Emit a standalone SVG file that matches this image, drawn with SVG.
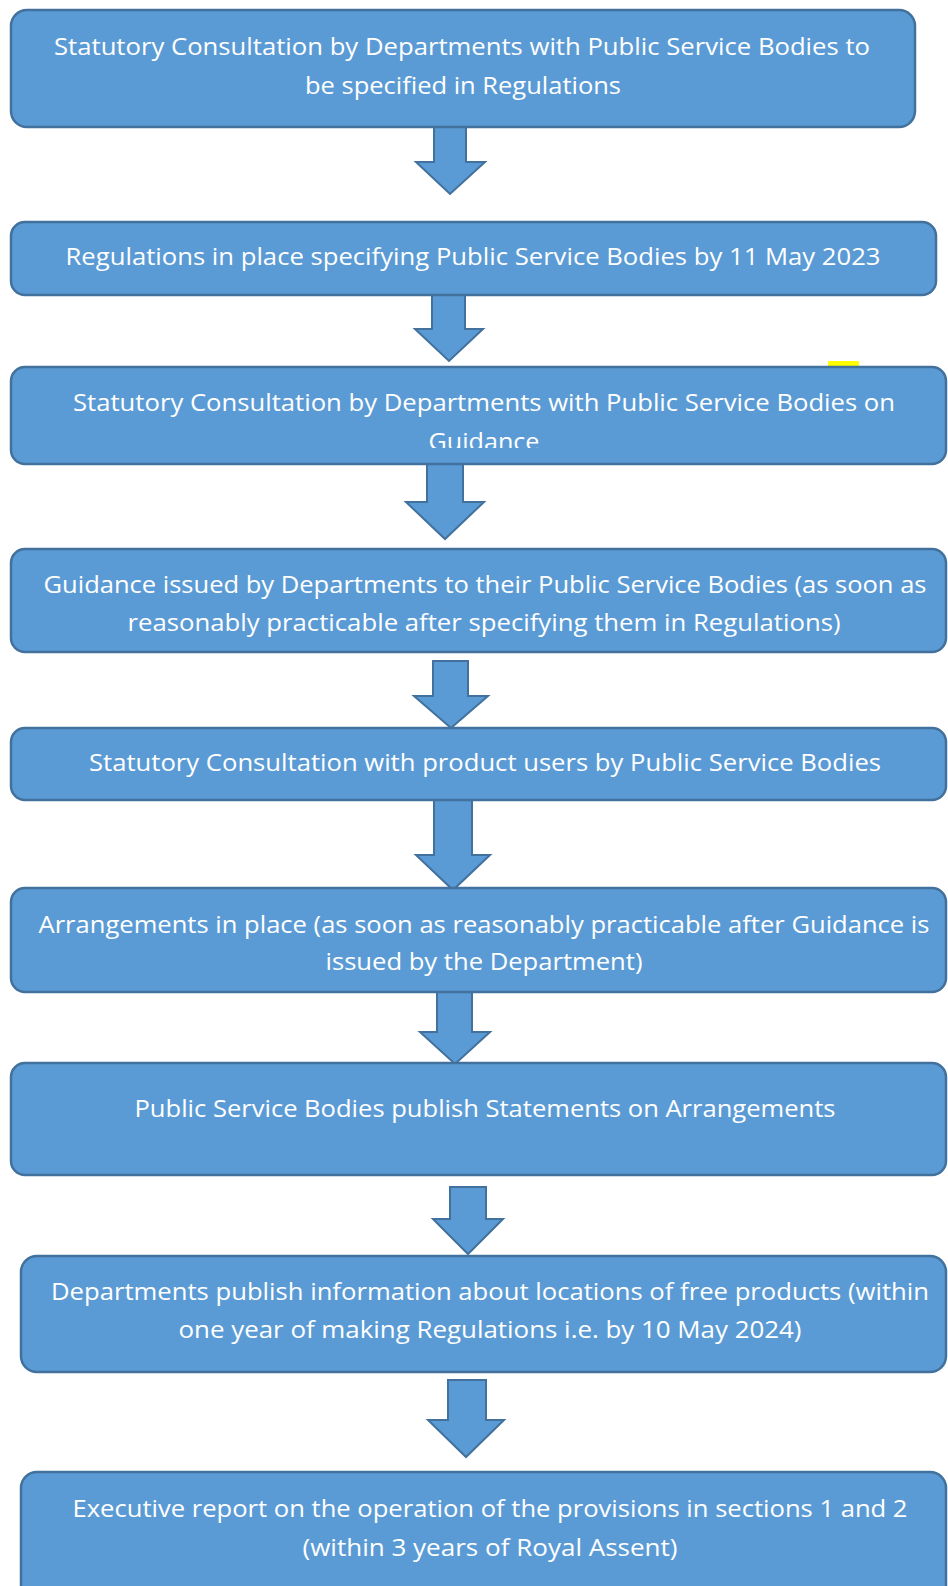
<svg xmlns="http://www.w3.org/2000/svg" width="948" height="1586" viewBox="0 0 948 1586">
<style>
.box{fill:#5B9BD5;stroke:#41719C;stroke-width:2.5}
.arr{fill:#5B9BD5;stroke:#41719C;stroke-width:2;stroke-linejoin:miter}
text{font-family:"Open Sans","Noto Sans","Liberation Sans",sans-serif;font-size:24.5px;fill:#FFFFFF;text-anchor:middle}
</style>
<defs>
<clipPath id="clip3"><rect x="11" y="367" width="937" height="81"/></clipPath>
</defs>
<rect x="0" y="0" width="948" height="1586" fill="#FFFFFF"/>
<rect x="828" y="361" width="31" height="5" fill="#FFFF00"/>
<g id="connectors">
<path class="arr" d="M434,127 H466 V162 H485 L450,194 L416,162 H434 Z"/>
<path class="arr" d="M432,295 H465 V329 H483 L449,361 L415,329 H432 Z"/>
<path class="arr" d="M427,464 H463 V502 H484 L445,539 L406,502 H427 Z"/>
<path class="arr" d="M433,661 H468 V696 H488 L451,728 L414,696 H433 Z"/>
<path class="arr" d="M434,800 H472 V855 H490 L453,890 L416,855 H434 Z"/>
<path class="arr" d="M437,992 H472 V1032 H490 L455,1064 L420,1032 H437 Z"/>
<path class="arr" d="M450,1187 H486 V1219 H503 L468,1254 L433,1219 H450 Z"/>
<path class="arr" d="M448,1380 H486 V1420 H504 L466,1457 L428,1420 H448 Z"/>
</g>
<g id="node1">
<rect class="box" x="11" y="10" width="904" height="117" rx="16"/>
<text x="462" y="55" textLength="816" lengthAdjust="spacingAndGlyphs">Statutory Consultation by Departments with Public Service Bodies to</text>
<text x="463" y="94" textLength="316" lengthAdjust="spacingAndGlyphs">be specified in Regulations</text>
</g>
<g id="node2">
<rect class="box" x="11" y="222" width="925" height="73" rx="14"/>
<text x="473" y="265" textLength="815" lengthAdjust="spacingAndGlyphs">Regulations in place specifying Public Service Bodies by 11 May 2023</text>
</g>
<g id="node3">
<rect class="box" x="11" y="367" width="935" height="97" rx="14"/>
<g clip-path="url(#clip3)">
<text x="484" y="411" textLength="822" lengthAdjust="spacingAndGlyphs">Statutory Consultation by Departments with Public Service Bodies on</text>
<text x="484" y="450" textLength="111" lengthAdjust="spacingAndGlyphs">Guidance</text>
</g>
</g>
<g id="node4">
<rect class="box" x="11" y="549" width="935" height="103" rx="14"/>
<text x="485" y="593" textLength="883" lengthAdjust="spacingAndGlyphs">Guidance issued by Departments to their Public Service Bodies (as soon as</text>
<text x="484" y="631" textLength="713" lengthAdjust="spacingAndGlyphs">reasonably practicable after specifying them in Regulations)</text>
</g>
<g id="node5">
<rect class="box" x="11" y="728" width="935" height="72" rx="14"/>
<text x="485" y="771" textLength="792" lengthAdjust="spacingAndGlyphs">Statutory Consultation with product users by Public Service Bodies</text>
</g>
<g id="node6">
<rect class="box" x="11" y="888" width="935" height="104" rx="14"/>
<text x="484" y="933" textLength="891" lengthAdjust="spacingAndGlyphs">Arrangements in place (as soon as reasonably practicable after Guidance is</text>
<text x="484" y="970" textLength="317" lengthAdjust="spacingAndGlyphs">issued by the Department)</text>
</g>
<g id="node7">
<rect class="box" x="11" y="1063" width="935" height="112" rx="14"/>
<text x="485" y="1117" textLength="701" lengthAdjust="spacingAndGlyphs">Public Service Bodies publish Statements on Arrangements</text>
</g>
<g id="node8">
<rect class="box" x="21" y="1256" width="925" height="116" rx="16"/>
<text x="490" y="1300" textLength="878" lengthAdjust="spacingAndGlyphs">Departments publish information about locations of free products (within</text>
<text x="490" y="1338" textLength="623" lengthAdjust="spacingAndGlyphs">one year of making Regulations i.e. by 10 May 2024)</text>
</g>
<g id="node9">
<rect class="box" x="21" y="1472" width="925" height="140" rx="16"/>
<text x="490" y="1517" textLength="835" lengthAdjust="spacingAndGlyphs">Executive report on the operation of the provisions in sections 1 and 2</text>
<text x="490" y="1556" textLength="375" lengthAdjust="spacingAndGlyphs">(within 3 years of Royal Assent)</text>
</g>
</svg>
